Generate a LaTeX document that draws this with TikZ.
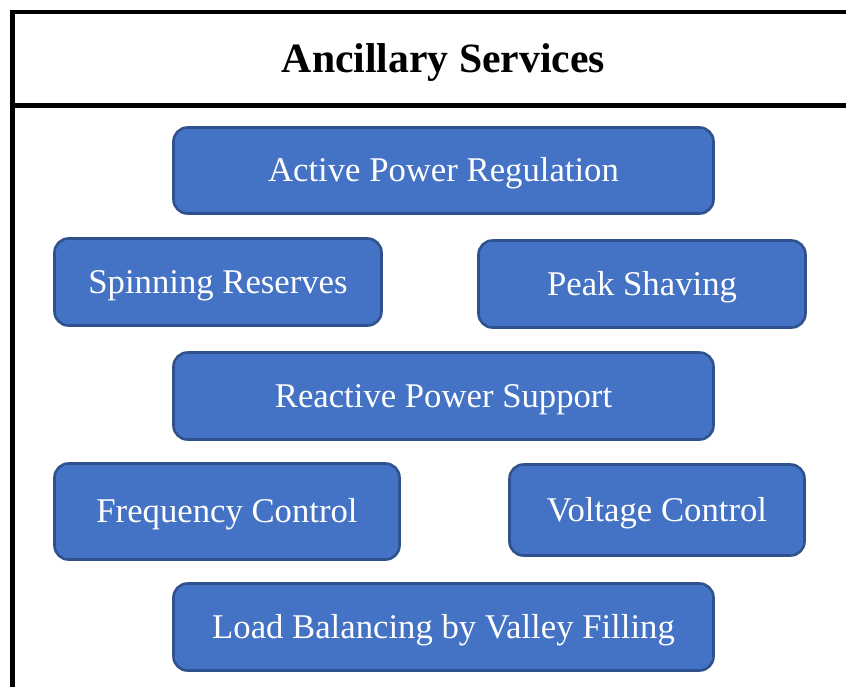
\documentclass[tikz,border=0pt]{standalone}
\usepackage{fontspec}
\setmainfont{Liberation Serif}
\definecolor{boxfill}{HTML}{4472C4}
\definecolor{boxline}{HTML}{2F528F}
\begin{document}
\begin{tikzpicture}[x=1pt,y=-1pt,
  svc/.style={draw=boxline, fill=boxfill, line width=2.6pt, rounded corners=14pt,
    text=white, font=\fontsize{34.7}{40}\selectfont, inner sep=0pt,
    text height=22.7pt, text depth=0pt, align=center},
  frameline/.style={line width=4.5pt, black}]
\useasboundingbox (0,0) rectangle (846,686);
\clip (0,0) rectangle (846,686);
\fill[white] (0,0) rectangle (846,686);
% frame
\coordinate (tl) at (12.5,12);
\coordinate (tr) at (860,12);
\coordinate (bl) at (12.5,700);
\coordinate (dl) at (12.5,105.5);
\coordinate (dr) at (860,105.5);
\draw[frameline] (bl) -- (tl) -- (tr);
\draw[frameline] (dl) -- (dr);
\node[font=\fontsize{41.7}{48}\selectfont\bfseries, inner sep=0pt, text height=27.3pt, text depth=0pt] (title) at (443.5,59.3) {Ancillary Services};
% boxes
\node[svc, minimum width=540pt, minimum height=86pt] (apr) at (443.5,170.5) {Active Power Regulation};
\node[svc, minimum width=327pt, minimum height=87pt] (spin) at (218,282) {Spinning Reserves};
\node[svc, minimum width=327pt, minimum height=87pt] (peak) at (642,284) {Peak Shaving};
\node[svc, minimum width=540pt, minimum height=87pt] (react) at (443.5,396) {Reactive Power Support};
\node[svc, minimum width=345pt, minimum height=96pt] (freq) at (227,511.5) {Frequency Control};
\node[svc, minimum width=295pt, minimum height=91pt] (volt) at (657,510) {Voltage Control};
\node[svc, minimum width=540pt, minimum height=87pt] (load) at (443.5,627) {Load Balancing by Valley Filling};
\end{tikzpicture}
\end{document}
